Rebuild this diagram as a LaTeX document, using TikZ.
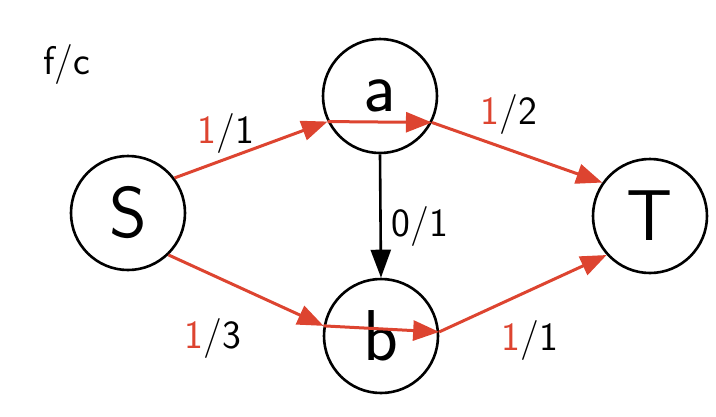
\documentclass[tikz,border=0pt]{standalone}
\usepackage{tikz}
\usetikzlibrary{arrows.meta,positioning}
\definecolor{flowred}{RGB}{221,68,48}

\begin{document}
\begin{tikzpicture}[x=1pt, y=-1pt, font=\sffamily,
  vert/.style={draw, circle, line width=2.6pt, minimum size=114pt, inner sep=0pt, font=\sffamily\fontsize{72}{72}\selectfont},
  flow/.style={draw=flowred, line width=3pt, -{Triangle[length=26pt,width=20pt,flowred]}},
  plain/.style={draw, line width=2.6pt, -{Triangle[length=28pt,width=20pt]}},
  lab/.style={font=\sffamily\fontsize{40}{40}\selectfont, inner sep=0pt}]
\useasboundingbox (0,0) rectangle (716,416);
\node[vert] (S) at (128,213) {S};
\node[vert] (a) at (380,96) {a};
\node[vert] (b) at (381,336) {b};
\node[vert] (T) at (650,216) {T};
\node[lab] (fc) at (67,64) {f/c};
\node[lab] (lsa) at (226,133) {\textcolor{flowred}{1}/1};
\node[lab] (lat) at (509,114) {\textcolor{flowred}{1}/2};
\node[lab] (lab) at (420,226) {0/1};
\node[lab] (lsb) at (213,338) {\textcolor{flowred}{1}/3};
\node[lab] (lbt) at (530,340) {\textcolor{flowred}{1}/1};
% flow path through a
\draw[flow] (S.37) -- (a.206);
\draw[flow] (a.206) -- (a.333);
\draw[flow] (a.333) -- (T.145);
% flow path through b
\draw[flow] (S.314) -- (b.170);
\draw[flow] (b.170) -- (b.4);
\draw[flow] (b.4) -- (T.222);
\draw[plain] (a.south) -- (b.north);
\end{tikzpicture}
\end{document}
